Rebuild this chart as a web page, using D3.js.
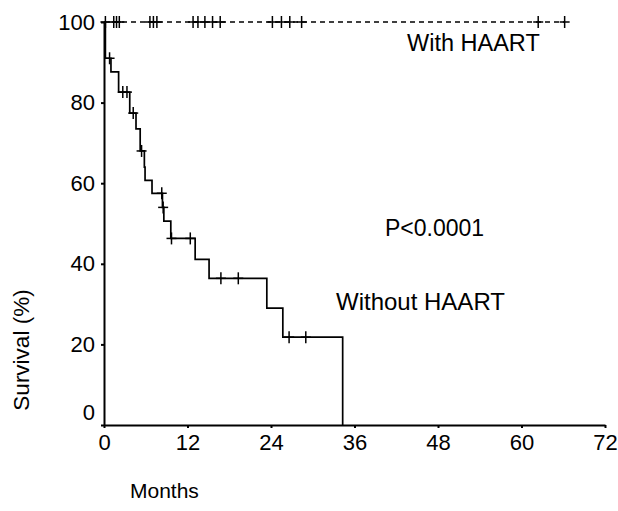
<!DOCTYPE html>
<html>
<head>
<meta charset="utf-8">
<script src="https://cdn.jsdelivr.net/npm/d3@7"></script>
<style>
  body { margin: 0; background: #fff; }
  svg { display: block; }
  text { font-family: "Liberation Sans", Arial, sans-serif; fill: #000; }
</style>
</head>
<body>
<svg width="618" height="511"></svg>
<script>
// Without HAART: event times (months) and survival (%) after each step
const withoutTimes = [0.2, 1.0, 2.1, 3.7, 4.6, 5.2, 5.8, 5.9, 6.9, 8.4, 8.6, 9.6, 13.1, 15.1, 23.4, 25.7, 34.3];
const withoutSurv  = [91, 87.6, 82.6, 77.4, 73.5, 68, 64, 60.7, 57.5, 54, 50.6, 46.3, 41.1, 36.4, 29, 21.8, 0];
const withoutCensor = [0.8, 2.7, 3.3, 4.2, 5.4, 8.3, 8.5, 9.7, 12.4, 16.8, 19.3, 26.6, 29];

// With HAART: no events, censored times only
const withCensor = [0.2, 1.4, 1.8, 2.2, 6.6, 7.1, 7.6, 12.8, 13.5, 14.5, 15.6, 16.7, 24.2, 25.5, 26.7, 28.4, 62.4, 66.2];

const xTicks = [0, 12, 24, 36, 48, 60, 72];
const yTicks = [0, 20, 40, 60, 80, 100];

const margin = {top: 22, right: 13, bottom: 86, left: 104};
const width = 618 - margin.left - margin.right;
const height = 511 - margin.top - margin.bottom;

const svg = d3.select('svg');
const g = svg.append('g')
  .attr('transform', 'translate(' + margin.left + ',' + margin.top + ')');

const x = d3.scaleLinear().domain([0, 72]).range([0, width]);
const y = d3.scaleLinear().domain([0, 100]).range([height, 0]);

// step function value at time t
function survAt(t) {
  let s = 100;
  withoutTimes.forEach(function(et, i) { if (et <= t) s = withoutSurv[i]; });
  return s;
}

// axes
const xAxis = g.append('g')
  .attr('transform', 'translate(0,' + height + ')')
  .call(d3.axisBottom(x).tickValues(xTicks).tickSize(3).tickPadding(6).tickSizeOuter(0));
const yAxis = g.append('g')
  .call(d3.axisLeft(y).tickValues(yTicks).tickSize(3).tickPadding(6).tickSizeOuter(0));

[xAxis, yAxis].forEach(function(a) {
  a.select('.domain').attr('stroke', '#000').attr('stroke-width', 2);
  a.selectAll('.tick line').attr('stroke', '#000').attr('stroke-width', 2);
  a.selectAll('.tick text').style('font-size', '22px').attr('fill', '#000');
});
yAxis.selectAll('.tick text').filter(function(d) { return d === 0; }).attr('dy', '-0.25em');

// Without HAART step curve
const pts = [[0, 100]];
withoutTimes.forEach(function(t, i) { pts.push([t, withoutSurv[i]]); });
const line = d3.line()
  .x(function(d) { return x(d[0]); })
  .y(function(d) { return y(d[1]); })
  .curve(d3.curveStepAfter);
g.append('path')
  .datum(pts)
  .attr('fill', 'none')
  .attr('stroke', '#000')
  .attr('stroke-width', 1.7)
  .attr('d', line);

// With HAART dashed line at 100%
g.append('path')
  .datum([[0, 100], [d3.max(withCensor), 100]])
  .attr('fill', 'none')
  .attr('stroke', '#000')
  .attr('stroke-width', 1.4)
  .attr('stroke-dasharray', '5,4')
  .attr('d', d3.line().x(function(d) { return x(d[0]); }).y(function(d) { return y(d[1]); }));

// censor marks
function crosses(data, getS) {
  const c = g.append('g').selectAll('g')
    .data(data)
    .enter()
    .append('g')
    .attr('transform', function(d) { return 'translate(' + x(d) + ',' + y(getS(d)) + ')'; });
  c.append('line').attr('x1', 0).attr('x2', 0).attr('y1', -6).attr('y2', 6)
    .attr('stroke', '#000').attr('stroke-width', 1.5);
  c.append('line').attr('x1', -5).attr('x2', 5).attr('y1', 0).attr('y2', 0)
    .attr('stroke', '#000').attr('stroke-width', 1.5);
}
crosses(withoutCensor, survAt);
crosses(withCensor, function() { return 100; });

// labels
svg.append('text').attr('x', 407).attr('y', 51).style('font-size', '23.5px').text('With HAART');
svg.append('text').attr('x', 385).attr('y', 236).style('font-size', '23px').text('P<0.0001');
svg.append('text').attr('x', 336).attr('y', 310).style('font-size', '24px').text('Without HAART');
svg.append('text').attr('x', 130).attr('y', 498).style('font-size', '21px').text('Months');
svg.append('text')
  .attr('transform', 'translate(29,350) rotate(-90)')
  .attr('text-anchor', 'middle')
  .style('font-size', '22.5px')
  .text('Survival (%)');
</script>
</body>
</html>
